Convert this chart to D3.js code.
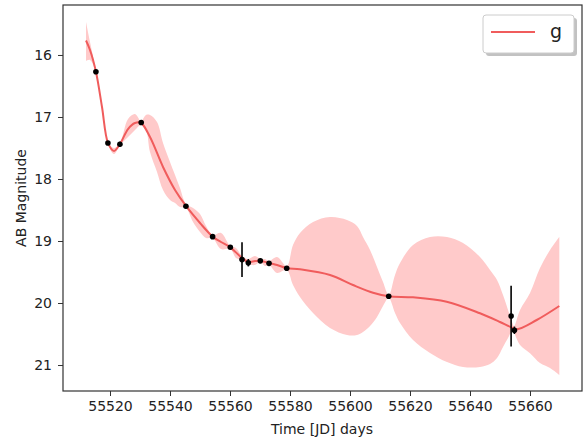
<!DOCTYPE html>
<html>
<head>
<meta charset="utf-8">
<script src="https://cdn.jsdelivr.net/npm/d3@7/dist/d3.min.js"></script>
<style>
  html, body { margin: 0; padding: 0; background: #fff; }
  svg { display: block; font-family: "DejaVu Sans", sans-serif; }
</style>
</head>
<body>
<svg id="chart" width="587" height="441"></svg>
<script>
// Observations (JD, AB mag, 1-sigma error)
const obsTime = [55515.3, 55519.3, 55523.3, 55530.4, 55545.3, 55554.2, 55560.1, 55564.0,
                 55566.1, 55570.1, 55573.0, 55578.9, 55612.9, 55653.7, 55654.8];
const obsMag  = [16.27, 17.42, 17.44, 17.09, 18.44, 18.93, 19.10, 19.30,
                 19.35, 19.32, 19.36, 19.44, 19.89, 20.21, 20.44];
const obsErr  = [0.03, 0.03, 0.04, 0.03, 0.03, 0.03, 0.03, 0.28,
                 0.06, 0.03, 0.03, 0.03, 0.03, 0.49, 0.06];

// Fitted light curve (mean)
const fitTime = [55512.0, 55513.33, 55515.33, 55517.33, 55519.33, 55521.33, 55523.33, 55526.0,
                 55528.33, 55530.33, 55533.33, 55537.67, 55541.67, 55545.33, 55550.0, 55554.23,
                 55557.0, 55560.1, 55564.0, 55566.1, 55568.33, 55570.1, 55573.0, 55575.67,
                 55578.9, 55583.33, 55593.33, 55601.0, 55607.67, 55612.9, 55621.0, 55632.23,
                 55643.33, 55650.0, 55653.33, 55655.57, 55662.23, 55669.77];
const fitMag  = [15.766, 15.919, 16.274, 16.839, 17.419, 17.548, 17.435, 17.194,
                 17.097, 17.097, 17.323, 17.806, 18.177, 18.435, 18.71, 18.93,
                 19.016, 19.102, 19.274, 19.339, 19.323, 19.318, 19.355, 19.387,
                 19.435, 19.456, 19.548, 19.71, 19.834, 19.892, 19.908, 19.979,
                 20.166, 20.306, 20.382, 20.424, 20.274, 20.048];

// Confidence band (bright edge / faint edge)
const bandTime = [55512.0, 55513.33, 55515.33, 55517.33, 55519.33, 55521.33, 55523.33, 55526.0,
                  55528.33, 55530.33, 55532.0, 55533.33, 55535.67, 55537.67, 55540.0, 55541.67,
                  55543.33, 55545.33, 55547.67, 55550.0, 55552.0, 55554.23, 55557.0, 55560.1,
                  55562.0, 55564.0, 55566.0, 55568.33, 55570.1, 55571.67, 55573.0, 55575.67,
                  55578.9, 55581.0, 55583.33, 55587.67, 55593.33, 55599.0, 55602.33, 55604.33,
                  55606.67, 55609.0, 55611.0, 55612.9, 55615.0, 55616.67, 55621.0, 55626.67,
                  55632.33, 55637.67, 55643.33, 55646.67, 55649.0, 55651.0, 55652.67, 55654.0,
                  55654.67, 55656.67, 55660.0, 55663.33, 55666.67, 55669.77];
const bandTop  = [15.468, 15.79, 16.258, 16.823, 17.403, 17.50, 17.419, 17.032,
                  16.952, 17.065, 16.968, 16.968, 17.081, 17.419, 17.726, 17.935,
                  18.145, 18.403, 18.468, 18.565, 18.758, 18.903, 18.871, 19.081,
                  19.113, 19.242, 19.29, 19.242, 19.29, 19.29, 19.323, 19.258,
                  19.403, 19.065, 18.871, 18.694, 18.613, 18.661, 18.758, 18.935,
                  19.145, 19.419, 19.661, 19.871, 19.548, 19.355, 19.065, 18.935,
                  18.935, 19.032, 19.258, 19.468, 19.629, 19.871, 20.113, 20.306,
                  20.371, 20.113, 19.839, 19.435, 19.145, 18.935];
const bandBot  = [16.097, 16.08, 16.29, 16.855, 17.435, 17.597, 17.452, 17.323,
                  17.21, 17.129, 17.21, 17.565, 17.887, 18.177, 18.339, 18.387,
                  18.452, 18.468, 18.694, 18.855, 18.952, 18.96, 19.129, 19.129,
                  19.274, 19.306, 19.371, 19.387, 19.339, 19.403, 19.387, 19.516,
                  19.468, 19.71, 19.903, 20.161, 20.403, 20.516, 20.516, 20.468,
                  20.371, 20.226, 20.048, 19.919, 20.161, 20.323, 20.597, 20.806,
                  20.952, 21.032, 21.032, 20.984, 20.887, 20.71, 20.565, 20.452,
                  20.484, 20.677, 20.81, 20.968, 21.048, 21.161];

const xTicks = [55520, 55540, 55560, 55580, 55600, 55620, 55640, 55660];
const yTicks = [16, 17, 18, 19, 20, 21];
const legendLabels = ['g'];

const W = 587, H = 441;
const M = { left: 63, right: 5, top: 5, bottom: 50 };
const LINE_COLOR = '#f05c5c';
const BAND_COLOR = '#ffcaca';

const svg = d3.select('#chart');

const x = d3.scaleLinear().domain([55504.33, 55677.33]).range([M.left, W - M.right]);
const y = d3.scaleLinear().domain([15.194, 21.419]).range([M.top, H - M.bottom]);

const band = bandTime.map((t, i) => ({ t, lo: bandTop[i], hi: bandBot[i] }));
const fit = fitTime.map((t, i) => ({ t, m: fitMag[i] }));
const obs = obsTime.map((t, i) => ({ t, m: obsMag[i], e: obsErr[i] }));

const smooth = d3.curveCatmullRom.alpha(0.5);

svg.append('path')
  .datum(band)
  .attr('fill', BAND_COLOR)
  .attr('d', d3.area().curve(smooth)
    .x(d => x(d.t)).y0(d => y(d.lo)).y1(d => y(d.hi)));

svg.append('path')
  .datum(fit)
  .attr('fill', 'none')
  .attr('stroke', LINE_COLOR)
  .attr('stroke-width', 2)
  .attr('d', d3.line().curve(smooth).x(d => x(d.t)).y(d => y(d.m)));

// error bars then markers
svg.append('g').selectAll('line')
  .data(obs)
  .join('line')
  .attr('x1', d => x(d.t)).attr('x2', d => x(d.t))
  .attr('y1', d => y(d.m - d.e)).attr('y2', d => y(d.m + d.e))
  .attr('stroke', '#000').attr('stroke-width', 1.6);

svg.append('g').selectAll('circle')
  .data(obs)
  .join('circle')
  .attr('cx', d => x(d.t)).attr('cy', d => y(d.m))
  .attr('r', 2.8).attr('fill', '#000');

// axes
const xAxis = svg.append('g')
  .attr('transform', `translate(0,${H - M.bottom})`)
  .call(d3.axisBottom(x).tickValues(xTicks).tickFormat(d3.format('d')).tickSizeOuter(0).tickSize(5).tickPadding(5));
const yAxis = svg.append('g')
  .attr('transform', `translate(${M.left},0)`)
  .call(d3.axisLeft(y).tickValues(yTicks).tickFormat(d3.format('d')).tickSizeOuter(0).tickSize(5).tickPadding(6));

[xAxis, yAxis].forEach(a => {
  a.select('.domain').remove();
  a.selectAll('.tick line').attr('stroke', '#333').attr('stroke-width', 1);
  a.selectAll('.tick text').attr('fill', '#222').attr('font-size', 14)
    .attr('font-family', '"DejaVu Sans", sans-serif');
});

// frame
svg.append('rect')
  .attr('x', M.left).attr('y', M.top)
  .attr('width', W - M.left - M.right).attr('height', H - M.top - M.bottom)
  .attr('fill', 'none').attr('stroke', '#333').attr('stroke-width', 1.2);

svg.append('text')
  .attr('x', 322).attr('y', 434)
  .attr('text-anchor', 'middle').attr('font-size', 14).attr('fill', '#222')
  .text('Time [JD] days');

svg.append('text')
  .attr('transform', `translate(26,${(M.top + H - M.bottom) / 2}) rotate(-90)`)
  .attr('text-anchor', 'middle').attr('font-size', 14).attr('fill', '#222')
  .text('AB Magnitude');

// legend with shadow
const lg = svg.append('g').attr('transform', 'translate(483,15)');
lg.append('rect').attr('x', 3).attr('y', 3).attr('width', 91).attr('height', 38)
  .attr('rx', 3).attr('fill', '#999').attr('opacity', 0.6);
lg.append('rect').attr('width', 91).attr('height', 38).attr('rx', 3)
  .attr('fill', '#fff').attr('stroke', '#ccc').attr('stroke-width', 1);
legendLabels.forEach((lab, i) => {
  lg.append('line').attr('x1', 8).attr('x2', 52).attr('y1', 17 + i * 24).attr('y2', 17 + i * 24)
    .attr('stroke', LINE_COLOR).attr('stroke-width', 2);
  lg.append('text').attr('x', 67).attr('y', 23 + i * 24)
    .attr('font-size', 19).attr('fill', '#222').text(lab);
});
</script>
</body>
</html>
